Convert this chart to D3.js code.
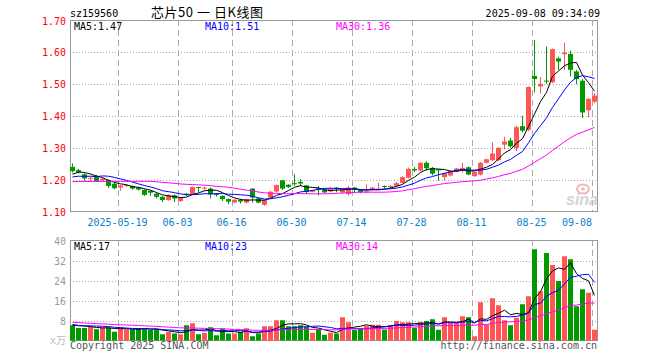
<!DOCTYPE html>
<html>
<head>
<meta charset="utf-8">
<script src="https://cdn.jsdelivr.net/npm/d3@7"></script>
<style>
  body { margin: 0; background: #fff; }
  text { font-family: "DejaVu Sans Mono", monospace; font-size: 10px; }
</style>
</head>
<body>
<div id="chart"></div>
<script>
// trading days (2025)
const dates = [
  "05-07","05-08","05-09","05-12","05-13","05-14","05-15","05-16","05-19","05-20","05-21","05-22","05-23","05-26","05-27","05-28","05-29","05-30",
  "06-03","06-04","06-05","06-06","06-09","06-10","06-11","06-12","06-13","06-16","06-17","06-18","06-19","06-20","06-23","06-24","06-25","06-26","06-27","06-30",
  "07-01","07-02","07-03","07-04","07-07","07-08","07-09","07-10","07-11","07-14","07-15","07-16","07-17","07-18","07-21","07-22","07-23","07-24","07-25","07-28","07-29","07-30","07-31",
  "08-01","08-04","08-05","08-06","08-07","08-08","08-11","08-12","08-13","08-14","08-15","08-18","08-19","08-20","08-21","08-22","08-25","08-26","08-27","08-28","08-29",
  "09-01","09-02","09-03","09-04","09-05","09-08"
];
const openP = [
  1.240,1.230,1.217,1.203,1.211,1.198,1.199,1.187,1.175,1.180,1.180,1.175,1.168,1.165,1.156,1.146,1.136,1.151,
  1.133,1.156,1.154,1.177,1.173,1.172,1.156,1.149,1.139,1.128,1.136,1.128,1.172,1.141,1.121,1.144,1.163,1.198,1.184,1.189,
  1.193,1.182,1.162,1.173,1.168,1.163,1.175,1.160,1.155,1.175,1.167,1.161,1.168,1.170,1.180,1.176,1.180,1.190,1.206,1.234,1.229,1.253,1.237,
  1.232,1.208,1.213,1.225,1.230,1.239,1.211,1.216,1.253,1.261,1.261,1.310,1.323,1.300,1.368,1.357,1.526,1.493,1.511,1.506,1.581,
  1.594,1.595,1.540,1.511,1.418,1.445
];
const highP = [
  1.251,1.234,1.220,1.210,1.215,1.206,1.201,1.191,1.183,1.185,1.182,1.178,1.170,1.166,1.159,1.149,1.154,1.154,
  1.145,1.158,1.178,1.178,1.178,1.175,1.158,1.151,1.141,1.138,1.140,1.140,1.173,1.143,1.137,1.165,1.185,1.199,1.186,1.217,
  1.201,1.183,1.169,1.180,1.170,1.175,1.177,1.172,1.180,1.177,1.168,1.185,1.177,1.190,1.182,1.183,1.193,1.210,1.238,1.240,1.255,1.258,1.240,
  1.233,1.222,1.230,1.237,1.253,1.241,1.227,1.256,1.266,1.317,1.302,1.335,1.331,1.370,1.401,1.493,1.639,1.522,1.618,1.612,1.586,
  1.630,1.605,1.545,1.516,1.456,1.472
];
const lowP = [
  1.222,1.219,1.196,1.196,1.193,1.194,1.174,1.170,1.165,1.177,1.168,1.166,1.149,1.149,1.141,1.130,1.134,1.130,
  1.130,1.148,1.152,1.160,1.165,1.141,1.147,1.133,1.123,1.126,1.125,1.126,1.128,1.126,1.118,1.142,1.160,1.168,1.174,1.180,
  1.180,1.155,1.160,1.151,1.158,1.160,1.160,1.157,1.150,1.159,1.157,1.158,1.166,1.168,1.172,1.172,1.178,1.188,1.204,1.224,1.226,1.228,1.213,
  1.197,1.197,1.210,1.223,1.222,1.214,1.209,1.213,1.251,1.259,1.258,1.295,1.300,1.290,1.349,1.352,1.474,1.470,1.501,1.503,1.545,
  1.545,1.524,1.500,1.394,1.396,1.440
];
const closeP = [
  1.227,1.224,1.204,1.206,1.196,1.203,1.180,1.173,1.182,1.183,1.172,1.169,1.152,1.159,1.146,1.136,1.152,1.141,
  1.144,1.153,1.177,1.176,1.175,1.154,1.152,1.139,1.131,1.137,1.131,1.139,1.144,1.128,1.136,1.162,1.183,1.172,1.177,1.186,
  1.188,1.161,1.167,1.168,1.160,1.172,1.170,1.170,1.175,1.170,1.161,1.163,1.175,1.172,1.178,1.180,1.189,1.208,1.234,1.229,1.253,1.236,1.219,
  1.230,1.221,1.227,1.235,1.237,1.216,1.225,1.253,1.264,1.282,1.300,1.320,1.305,1.365,1.354,1.491,1.516,1.501,1.508,1.610,1.571,
  1.599,1.545,1.516,1.411,1.454,1.464
];
// volume, 10k lots
const volume = [
  6.1,5.0,5.0,5.5,4.5,5.2,5.2,3.5,5.2,4.5,4.5,4.8,4.8,4.2,4.5,2.5,3.5,2.8,
  2.5,6.1,6.9,2.5,3.0,5.3,2.1,4.8,2.8,2.8,3.5,4.9,1.7,2.8,5.7,5.7,8.1,8.1,5.7,5.7,
  6.1,5.5,3.1,4.5,2.3,3.1,2.8,9.3,7.3,4.3,4.8,5.9,6.3,6.3,4.4,6.1,7.8,7.3,7.3,5.1,7.3,7.8,8.5,
  4.3,9.3,7.1,7.3,9.7,9.3,1.7,15.3,6.3,16.9,14.1,8.1,6.1,9.1,14.5,17.7,36.5,19.7,35.0,30.2,23.8,
  33.7,32.5,13.7,20.5,19.1,4.3
];
// estimated sessions before the window (only feed the moving averages)
const prevClose = [1.21,1.20,1.21,1.19,1.20,1.18,1.17,1.18,1.19,1.17,1.16,1.15,1.17,1.18,1.19,1.20,1.19,1.20,1.19,1.20,
  1.20,1.21,1.20,1.21,1.18,1.19,1.21,1.23,1.228];
const prevVolume = [9.5,8.8,10.2,8.1,7.6,9.0,8.4,7.2,8.0,7.5,8.6,7.9,7.0,8.3,7.4,6.8,7.7,7.1,6.9,7.0,
  5.8,5.2,6.0,5.4,5.6,6.9,6.2,6.6,6.2];

const priceTicks = [1.10,1.20,1.30,1.40,1.50,1.60,1.70];
const volTicks = [8,16,24,32,40];
const dateTicks = ["05-19","06-03","06-16","06-30","07-14","07-28","08-11","08-25","09-08"];
const dateTickLabels = ["2025-05-19","06-03","06-16","06-30","07-14","07-28","08-11","08-25","09-08"];
const maPeriods = [5,10,30];
const maColors = ["#000000","#0000ff","#ff00ff"];
const priceLegend = ["MA5:1.47","MA10:1.51","MA30:1.36"];
const volLegend = ["MA5:17","MA10:23","MA30:14"];

(function () {
  const W = 660, H = 360;
  const left = 70, right = 598;
  const red = "#ff5555", green = "#009900";

  const svg = d3.select("#chart").append("svg")
    .attr("width", W).attr("height", H);

  const data = dates.map((d, i) => ({
    date: d, o: openP[i], h: highP[i], l: lowP[i], c: closeP[i], v: volume[i]
  }));

  // moving averages over prior sessions + window
  function movingAvg(prev, cur, n) {
    const all = prev.concat(cur);
    return cur.map((_, i) => {
      const end = prev.length + i;
      return d3.mean(all.slice(end - n + 1, end + 1));
    });
  }

  const x = d3.scaleBand().domain(dates).range([left, left + dates.length * 6]).padding(0);
  const cx = d => x(d) + 2.5;

  const y = d3.scaleLinear().domain([1.10, 1.70]).range([211.5, 20.5]);
  const yv = d3.scaleLinear().domain([0, 40]).range([340.5, 240.5]);

  // header
  svg.append("text").attr("x", 70).attr("y", 16.5).attr("fill", "#000").text("sz159560");
  svg.append("text").attr("x", 151).attr("y", 17)
    .style("font-family", "'Noto Sans CJK SC', sans-serif").style("font-size", "13px")
    .attr("textLength", 112).attr("lengthAdjust", "spacing")
    .attr("fill", "#000").text("芯片50 一 日K线图");
  svg.append("text").attr("x", 600).attr("y", 16.5).attr("text-anchor", "end")
    .attr("fill", "#000").text("2025-09-08 09:34:09");

  function panel(yScale, ticks, top, bottom, labelColor, fmt) {
    const g = svg.append("g");
    // horizontal dotted grid
    g.selectAll(".hg").data(ticks.filter(t => yScale(t) > top + 1 && yScale(t) < bottom - 1))
      .enter().append("line")
      .attr("x1", left).attr("x2", right)
      .attr("y1", d => Math.round(yScale(d)) + 0.5).attr("y2", d => Math.round(yScale(d)) + 0.5)
      .attr("stroke", "#aaa").attr("stroke-dasharray", "1,2");
    // vertical dashed grid
    g.selectAll(".vg").data(dateTicks).enter().append("line")
      .attr("x1", d => x(d) + 0.5).attr("x2", d => x(d) + 0.5)
      .attr("y1", top).attr("y2", bottom)
      .attr("stroke", "#aaa").attr("stroke-dasharray", "6,4");
    // frame
    g.append("rect").attr("x", left + 0.5).attr("y", top + 0.5)
      .attr("width", right - left - 1).attr("height", bottom - top)
      .attr("fill", "none").attr("stroke", "#999");
    // axis labels
    g.selectAll(".yl").data(ticks).enter().append("text")
      .attr("x", 66).attr("y", d => yScale(d) + 4)
      .attr("text-anchor", "end").attr("fill", labelColor)
      .text(fmt);
    return g;
  }

  panel(y, priceTicks, 20, 211, "#ff0000", d => d.toFixed(2));
  panel(yv, volTicks, 240, 340, "#999", d => d);

  // x axis date labels
  svg.selectAll(".xl").data(dateTicks).enter().append("text")
    .attr("x", d => x(d) - 0.5).attr("y", 225.5)
    .attr("text-anchor", "middle").attr("fill", "#0a7fc8")
    .text((d, i) => dateTickLabels[i])
    .each(function (d) {
      const w = this.getComputedTextLength();
      if (x(d) + w / 2 > right - 4) {
        d3.select(this).attr("text-anchor", "end").attr("x", x(d));
      }
    });

  // watermark
  const wm = svg.append("g").attr("opacity", 0.9);
  wm.append("ellipse").attr("cx", 583).attr("cy", 189).attr("rx", 6).attr("ry", 4.5)
    .attr("fill", "none").attr("stroke", "#f2b0b0").attr("stroke-width", 2);
  wm.append("circle").attr("cx", 583).attr("cy", 189).attr("r", 1.8).attr("fill", "#f2b0b0");
  wm.append("text").attr("x", 566).attr("y", 205)
    .style("font-family", "'Liberation Sans', sans-serif").style("font-size", "16px")
    .style("font-style", "italic").style("font-weight", "bold")
    .attr("fill", "#cfcfcf").text("sina");

  // candles
  const candles = svg.append("g").selectAll("g").data(data).enter().append("g");
  const col = d => d.c >= d.o ? red : green;
  candles.append("line")
    .attr("x1", d => cx(d.date)).attr("x2", d => cx(d.date))
    .attr("y1", d => y(d.h)).attr("y2", d => y(d.l))
    .attr("stroke", col).attr("stroke-width", 1);
  candles.append("rect")
    .attr("x", d => x(d.date)).attr("width", 5)
    .attr("y", d => y(Math.max(d.o, d.c)))
    .attr("height", d => Math.max(1, Math.abs(y(d.o) - y(d.c))))
    .attr("fill", col);

  // volume bars
  svg.append("g").selectAll("rect").data(data).enter().append("rect")
    .attr("x", d => x(d.date)).attr("width", 5)
    .attr("y", d => yv(d.v)).attr("height", d => yv(0) - yv(d.v))
    .attr("fill", col);

  // MA lines
  maPeriods.forEach((n, k) => {
    const pm = movingAvg(prevClose, closeP, n);
    const vm = movingAvg(prevVolume, volume, n);
    svg.append("path")
      .datum(pm)
      .attr("d", d3.line().x((d, i) => cx(dates[i])).y(d => y(d)))
      .attr("fill", "none").attr("stroke", maColors[k]).attr("stroke-width", 1);
    svg.append("path")
      .datum(vm)
      .attr("d", d3.line().x((d, i) => cx(dates[i])).y(d => yv(d)))
      .attr("fill", "none").attr("stroke", maColors[k]).attr("stroke-width", 1);
  });

  // legends
  const legX = [74, 205, 336];
  priceLegend.forEach((t, k) => {
    svg.append("text").attr("x", legX[k]).attr("y", 30).attr("fill", maColors[k]).text(t);
  });
  volLegend.forEach((t, k) => {
    svg.append("text").attr("x", legX[k]).attr("y", 250).attr("fill", maColors[k]).text(t);
  });

  // footer
  svg.append("text").attr("x", 66).attr("y", 344).attr("text-anchor", "end")
    .style("font-family", "'DejaVu Sans Mono', 'Noto Sans CJK SC', monospace")
    .attr("fill", "#bbb").text("x万");
  svg.append("text").attr("x", 70).attr("y", 349).attr("fill", "#555").text("Copyright 2025 SINA.COM");
  svg.append("text").attr("x", 597).attr("y", 349).attr("text-anchor", "end")
    .attr("fill", "#555").text("http://finance.sina.com.cn");
})();
</script>
</body>
</html>
